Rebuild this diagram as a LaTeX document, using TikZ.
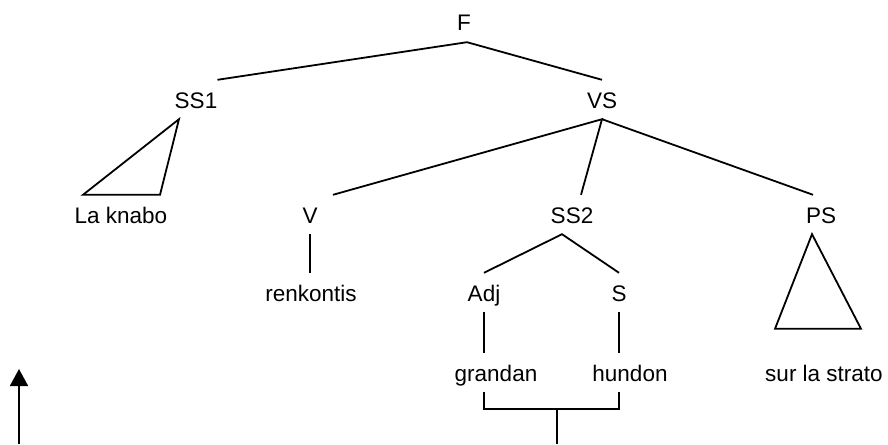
\documentclass[tikz,border=0pt]{standalone}
\usepackage{fontspec}
\setmainfont{Liberation Sans}
\usepackage{tikz}
\usetikzlibrary{arrows.meta}
\tikzstyle{word}=[anchor=base,inner xsep=0pt,inner ysep=9pt,text height=19pt,text depth=2pt,font=\fontsize{22.5}{27}\selectfont]
\tikzstyle{branch}=[line width=1.8pt]
\tikzstyle{roof}+=[branch,line join=miter]
\tikzstyle{axis}=[branch,-{Triangle[length=17pt,width=18pt]}]

\begin{document}
\begin{tikzpicture}[x=1pt,y=-1pt]
    \useasboundingbox (0,0) rectangle (888,444);
    % labels
    \node[word] (F) at (464,31) {F};
    \node[word] (SS1) at (196,108) {SS1};
    \node[word] (VS) at (602,108) {VS};
    \node[word] (knabo) at (121,223) {La knabo};
    \node[word] (V) at (310,223) {V};
    \node[word] (SS2) at (572,223) {SS2};
    \node[word] (PS) at (821,223) {PS};
    \node[word] (renkontis) at (311,301) {renkontis};
    \node[word] (Adj) at (484,301) {Adj};
    \node[word] (S) at (619,301) {S};
    \node[word] (grandan) at (496,381) {grandan};
    \node[word] (hundon) at (630,381) {hundon};
    \node[word] (strato) at (824,381) {sur la strato};
    \coordinate (join) at (557,409);
    \coordinate (stem) at (557,444);
    \coordinate (axisbot) at (19,444);
    \coordinate (axistop) at (19,369);
    % branches
    \draw[branch] (SS1.north east) -- ([xshift=3pt]F.south) -- (VS.north);
    \draw[branch] ([xshift=23pt]V.north) -- (VS.south) -- ([xshift=9pt]SS2.north);
    \draw[branch] (VS.south) -- ([xshift=-8pt]PS.north);
    \draw[branch] (V.south) -- (V.south |- renkontis.north);
    \draw[branch] (Adj.north) -- ([xshift=-10pt]SS2.south) -- (S.north);
    \draw[branch] (Adj.south) -- (Adj.south |- grandan.north);
    \draw[branch] (S.south) -- (S.south |- hundon.north);
    \draw[branch] (Adj.south |- grandan.south) -- (Adj.south |- join) -- (S.south |- join) -- (S.south |- hundon.south);
    \draw[branch] (join) -- (stem);
    % roofs
    \draw[roof] ([xshift=-17pt]SS1.south) -- ([xshift=-38pt]knabo.north) -- ([xshift=39pt]knabo.north) -- cycle;
    \draw[roof] ([xshift=-9pt]PS.south) -- ([shift={(-49pt,24pt)}]strato.north) -- ([shift={(37pt,24pt)}]strato.north) -- cycle;
    \draw[axis] (axisbot) -- (axistop);
\end{tikzpicture}
\end{document}
